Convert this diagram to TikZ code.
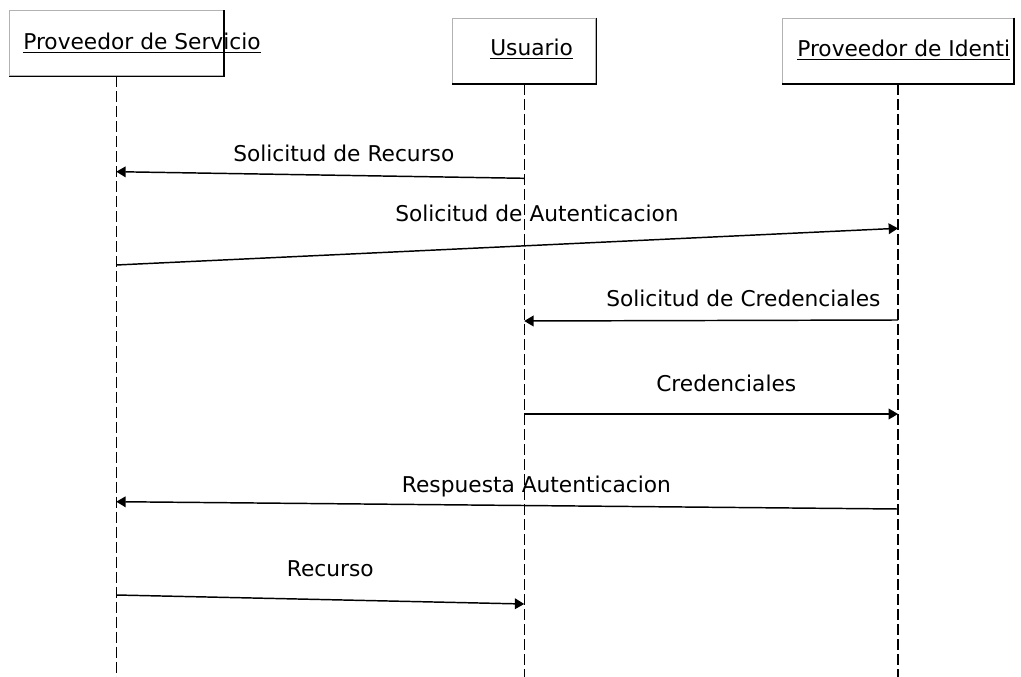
\documentclass[tikz,border=0pt]{standalone}
\usepackage{fontspec}
\setmainfont{DejaVu Sans}
\usetikzlibrary{arrows.meta}
\begin{document}
\begin{tikzpicture}[x=0.75pt,y=-0.75pt,
  lifebox/.style={draw=gray!60, line width=0.9pt, minimum height=48.9pt, inner sep=0pt, fill=white},
  lbl/.style={anchor=base west, inner sep=0pt, font=\fontsize{16.3}{19}\selectfont},
  lifeline/.style={line width=1pt, dash pattern=on 8.25pt off 3pt},
  msg/.style={line width=1.1pt, -{Triangle[length=7pt,width=8pt]}},
]
\useasboundingbox (0,0) rectangle (1021,677);
% boxes
\node[lifebox, minimum width=160.5pt] (ps) at (116.3,43.3) {};
\node[lifebox, minimum width=107.25pt] (us) at (524.2,50.8) {};
\node[lifebox, minimum width=173pt] (pi) at (898,50.8) {};
\foreach \b in {ps,us,pi}{
  \draw[line width=1pt] (\b.north east) -- (\b.south east) -- (\b.south west);
}
\node[lbl] (tps) at (23,50) {\underline{Proveedor de Servicio}};
\node[lbl] (tus) at (490,56) {\underline{Usuario}};
\node[lbl] (tpi) at (797,56.7) {\underline{Proveedor de Identi}};
% lifelines
\coordinate (ps-end) at (116.3,677);
\coordinate (us-end) at (524.2,677);
\coordinate (pi-end) at (898,677);
\draw[lifeline] (ps.south) -- (ps-end);
\draw[lifeline] (us.south) -- (us-end);
\draw[lifeline, line width=1.6pt] (pi.south) -- (pi-end);
% message endpoints
\coordinate (m1a) at (524.2,178.3); \coordinate (m1b) at (116.3,171.7);
\coordinate (m2a) at (116.3,265);   \coordinate (m2b) at (898,228.3);
\coordinate (m3a) at (898,320);     \coordinate (m3b) at (524.2,321);
\coordinate (m4a) at (524.2,414);   \coordinate (m4b) at (898,414);
\coordinate (m5a) at (898,509);     \coordinate (m5b) at (116.3,501.7);
\coordinate (m6a) at (116.3,595);   \coordinate (m6b) at (524.2,604);
\draw[msg] (m1a) -- (m1b);
\draw[msg] (m2a) -- (m2b);
\draw[msg] (m3a) -- (m3b);
\draw[msg] (m4a) -- (m4b);
\draw[msg] (m5a) -- (m5b);
\draw[msg] (m6a) -- (m6b);
% labels
\node[lbl] (l1) at (233,161.7) {Solicitud de Recurso};
\node[lbl] (l2) at (395,221.7) {Solicitud de Autenticacion};
\node[lbl] (l3) at (606,306.7) {Solicitud de Credenciales};
\node[lbl] (l4) at (656,391.7) {Credenciales};
\node[lbl] (l5) at (401.7,492.3) {Respuesta Autenticacion};
\node[lbl] (l6) at (286.7,576.7) {Recurso};
\end{tikzpicture}
\end{document}
